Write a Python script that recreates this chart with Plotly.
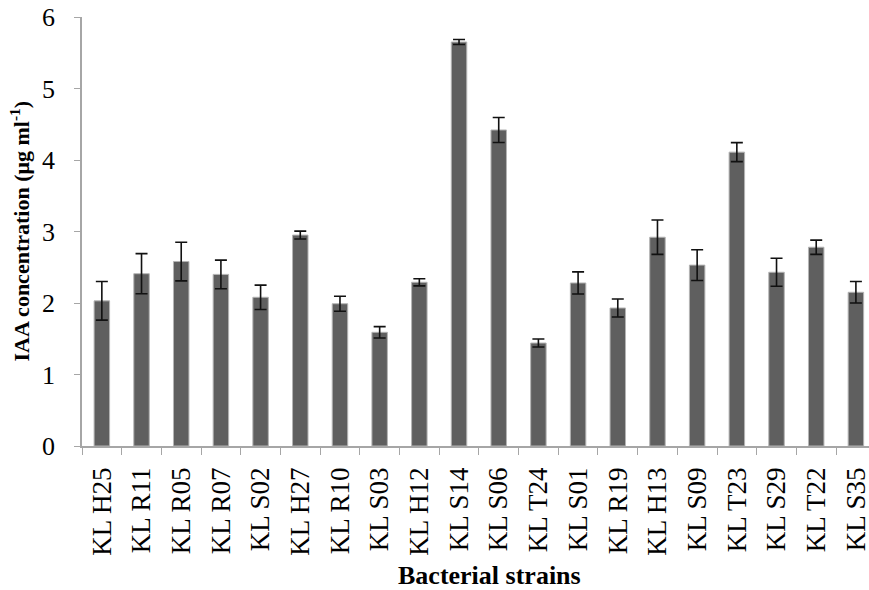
import plotly.graph_objects as go

strains = ["KL H25", "KL R11", "KL R05", "KL R07", "KL S02", "KL H27", "KL R10",
           "KL S03", "KL H12", "KL S14", "KL S06", "KL T24", "KL S01", "KL R19",
           "KL H13", "KL S09", "KL T23", "KL S29", "KL T22", "KL S35"]
iaa = [2.03, 2.41, 2.58, 2.40, 2.08, 2.95, 1.99, 1.59, 2.29, 5.65,
       4.42, 1.44, 2.28, 1.93, 2.92, 2.53, 4.11, 2.43, 2.78, 2.15]
err = [0.27, 0.28, 0.27, 0.20, 0.17, 0.055, 0.105, 0.08, 0.05, 0.035,
       0.175, 0.056, 0.155, 0.125, 0.24, 0.215, 0.133, 0.195, 0.10, 0.15]
y_ticks = [0, 1, 2, 3, 4, 5, 6]

W, H = 869, 590
L, T, B = 82, 17, 144
SERIF = "Liberation Serif, Times New Roman, serif"

fig = go.Figure(go.Bar(
    x=strains, y=iaa,
    marker=dict(color="#5f5f5f", line=dict(color="#b4b4b4", width=1)),
    error_y=dict(type="data", array=err, visible=True, color="#111111",
                 thickness=1.6, width=6),
))

fig.update_layout(
    width=W, height=H,
    margin=dict(l=L, r=0, t=T, b=B, pad=0, autoexpand=False),
    paper_bgcolor="white", plot_bgcolor="white",
    bargap=0.61, showlegend=False,
    font=dict(family=SERIF, color="black"),
)
fig.update_xaxes(
    range=[-0.5, 19.33], tickson="boundaries", ticks="outside", ticklen=7,
    tickcolor="#a6a6a6", tickwidth=1.3, automargin=False,
    showline=True, linecolor="#a6a6a6", linewidth=1.5, showgrid=False,
    tickangle=-90, tickfont=dict(family=SERIF, size=27, color="black"),
    ticklabelstandoff=9, ticklabeloverflow="allow",
)
fig.update_yaxes(
    range=[0, 6], tickvals=y_ticks, ticks="outside", ticklen=6,
    tickcolor="#a6a6a6", tickwidth=1.3, automargin=False,
    showline=True, linecolor="#a6a6a6", linewidth=1.5, showgrid=False,
    zeroline=False, tickfont=dict(family=SERIF, size=26, color="black"),
    ticklabelstandoff=14, ticklabeloverflow="allow",
)

fig.add_annotation(
    text="<b>IAA concentration (μg ml<sup>-1</sup>)</b>",
    xref="paper", yref="paper",
    x=(19 - L) / (W - L), y=0.5, xanchor="center", yanchor="middle",
    textangle=-90, showarrow=False,
    font=dict(family=SERIF, size=22, color="black"),
)
fig.add_annotation(
    text="<b>Bacterial strains</b>",
    xref="paper", yref="paper",
    x=(489 - L) / (W - L), y=-(575 - (H - B)) / (H - T - B),
    xanchor="center", yanchor="middle", showarrow=False,
    font=dict(family=SERIF, size=26, color="black"),
)

fig.write_html(
    "out.html",
    config={"displayModeBar": False},
    post_script="document.body.style.margin='0';document.body.style.overflow='hidden';",
)
